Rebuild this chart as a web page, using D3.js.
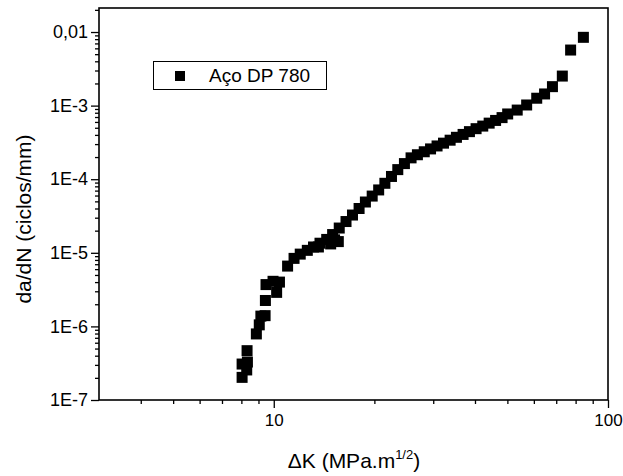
<!DOCTYPE html>
<html>
<head>
<meta charset="utf-8">
<script src="https://cdn.jsdelivr.net/npm/d3@7"></script>
<style>
	body { margin: 0; background: #fff; }
	svg { display: block; font-family: "Liberation Sans", Arial, sans-serif; }
	.tick line { stroke: #000; stroke-width: 1.3px; }
	.tick text { fill: #000; font-size: 17px; }
	.yaxis .tick text { font-size: 18px; }
	.axislabel { font-size: 21px; fill: #000; }
</style>
</head>
<body>
<svg id="graph"></svg>
<script>
// da/dN vs deltaK
var deltaK = [8.04, 8.30, 8.04, 8.34, 8.32, 8.87, 9.05, 9.15, 9.42, 9.44, 9.48, 9.95, 10.2, 10.4,
	11.0, 11.5, 12.0, 12.6, 13.15, 13.6, 13.75, 14.4, 14.8, 15.0, 15.2, 15.7, 15.6, 16.45, 17.2, 18.0, 18.8, 19.7,
	20.6, 21.5, 22.5, 23.5, 24.6, 25.75, 26.9, 28.2, 29.45, 30.8, 32.2, 33.7, 35.2, 36.85, 38.5,
	40.3, 42.2, 44.1, 46.1, 48.2, 50.1, 53.5, 57.1, 61.2, 64.6, 68.2, 73.0, 77.3, 84.4];
var dadN = [2.03e-7, 2.56e-7, 3.08e-7, 3.28e-7, 4.68e-7, 7.9e-7, 1.05e-6, 1.38e-6, 1.40e-6, 2.25e-6, 3.7e-6, 4.1e-6, 2.9e-6, 4.0e-6,
	6.6e-6, 8.4e-6, 9.6e-6, 1.08e-5, 1.2e-5, 1.2e-5, 1.35e-5, 1.52e-5, 1.32e-5, 1.77e-5, 1.5e-5, 2.17e-5, 1.42e-5, 2.66e-5, 3.26e-5, 4.0e-5, 4.9e-5, 5.9e-5,
	7.15e-5, 8.8e-5, 1.09e-4, 1.35e-4, 1.63e-4, 1.95e-4, 2.15e-4, 2.36e-4, 2.58e-4, 2.83e-4, 3.09e-4, 3.39e-4, 3.71e-4, 4.06e-4, 4.43e-4,
	4.86e-4, 5.27e-4, 5.78e-4, 6.29e-4, 6.87e-4, 7.7e-4, 8.7e-4, 1.02e-3, 1.26e-3, 1.44e-3, 1.81e-3, 2.52e-3, 5.69e-3, 8.47e-3];

var xTickValues = [10, 100],
	xTickLabels = ["10", "100"],
	xMinorTicks = [4, 5, 6, 7, 8, 9, 20, 30, 40, 50, 60, 70, 80, 90];
var yTickValues = [1e-7, 1e-6, 1e-5, 1e-4, 1e-3, 1e-2],
	yTickLabels = ["1E-7", "1E-6", "1E-5", "1E-4", "1E-3", "0,01"];
var seriesName = "Aço DP 780";

var margin = {top: 8, left: 99, right: 15, bottom: 76},
	width = 623 - margin.left - margin.right,
	height = 476 - margin.top - margin.bottom,
	graph = d3.select("#graph").attr("width", 623).attr("height", 476),
	g = graph.append("g").attr("transform", "translate(" + margin.left + "," + margin.top + ")");

var x = d3.scaleLog().domain([3, 100]).range([0, width]),
	y = d3.scaleLog().domain([1e-7, 0.0212]).range([height, 0]);

var yMinorTicks = [];
yTickValues.forEach(function(v) {
	for (var k = 2; k <= 9; k++) {
		if (v * k <= y.domain()[1]) yMinorTicks.push(v * k);
	}
});

// minor ticks first, no labels
g.append("g")
	.attr("class", "axis xminor")
	.attr("transform", "translate(0," + height + ")")
	.call(d3.axisBottom(x).tickValues(xMinorTicks).tickSize(4).tickFormat(""));
g.append("g")
	.attr("class", "axis yminor")
	.call(d3.axisLeft(y).tickValues(yMinorTicks).tickSize(4).tickFormat(""));

g.append("g")
	.attr("class", "axis xaxis")
	.attr("transform", "translate(0," + height + ")")
	.call(d3.axisBottom(x).tickValues(xTickValues).tickSize(8).tickPadding(6)
		.tickFormat(function(d, i) { return xTickLabels[i]; }));
g.append("g")
	.attr("class", "axis yaxis")
	.call(d3.axisLeft(y).tickValues(yTickValues).tickSize(8).tickPadding(3)
		.tickFormat(function(d, i) { return yTickLabels[i]; }));

g.selectAll(".axis .domain").remove();

// frame
g.append("rect")
	.attr("width", width)
	.attr("height", height)
	.attr("fill", "none")
	.attr("stroke", "#000")
	.attr("stroke-width", 1.6);

// points
var pts = deltaK.map(function(k, i) { return {k: k, v: dadN[i]}; });
var sz = 11;
g.append("g").attr("class", "points")
	.selectAll("rect")
	.data(pts)
	.enter().append("rect")
		.attr("x", function(d) { return x(d.k) - sz / 2; })
		.attr("y", function(d) { return y(d.v) - sz / 2; })
		.attr("width", sz)
		.attr("height", sz)
		.attr("fill", "#000");

// legend
var legend = graph.append("g").attr("class", "legend");
legend.append("rect")
	.attr("x", 153.5).attr("y", 61.5)
	.attr("width", 173).attr("height", 28)
	.attr("fill", "#fff").attr("stroke", "#000").attr("stroke-width", 1);
legend.append("rect")
	.attr("x", 175).attr("y", 71)
	.attr("width", 10).attr("height", 10)
	.attr("fill", "#000");
legend.append("text")
	.attr("x", 209).attr("y", 82)
	.style("font-size", "19px")
	.text(seriesName);

// axis labels
graph.append("text")
	.attr("class", "axislabel")
	.attr("x", 354).attr("y", 468)
	.attr("text-anchor", "middle")
	.html("ΔK (MPa.m<tspan dy='-9' font-size='13'>1/2</tspan><tspan dy='9'>)</tspan>");

graph.append("text")
	.attr("class", "axislabel")
	.attr("transform", "translate(31,219) rotate(-90)")
	.attr("text-anchor", "middle")
	.text("da/dN (ciclos/mm)");
</script>
</body>
</html>
